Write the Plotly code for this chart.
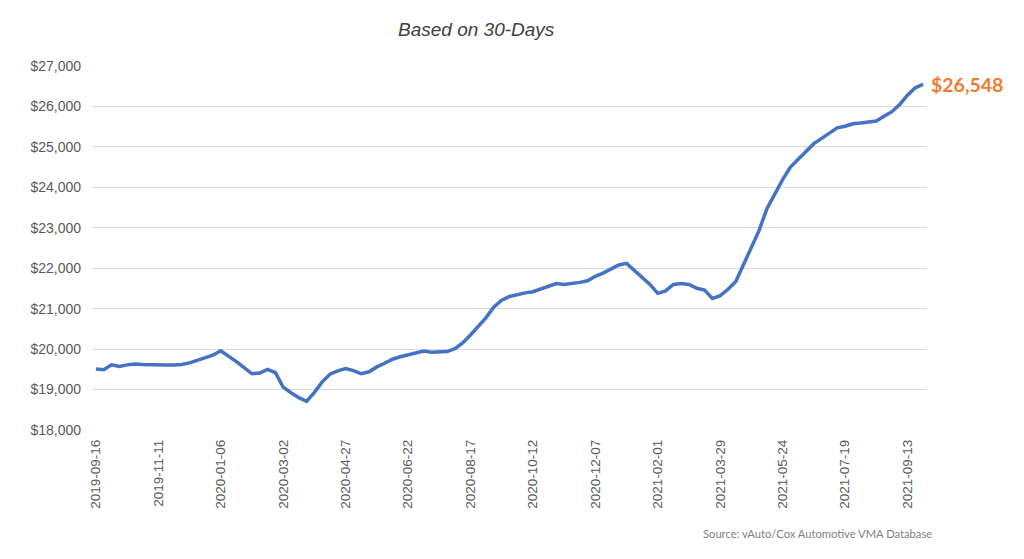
import plotly.graph_objects as go
import datetime as dt

start = dt.date(2019, 9, 16)
prices = [
    19510, 19490, 19610, 19570, 19610, 19630, 19620, 19610, 19610, 19610,
    19610, 19620, 19660, 19720, 19790, 19850, 19960, 19830, 19690, 19540,
    19390, 19410, 19500, 19420, 19060, 18920, 18800, 18710, 18930, 19190,
    19380, 19460, 19520, 19470, 19390, 19440, 19560, 19650, 19750, 19810,
    19860, 19910, 19950, 19920, 19930, 19940, 20010, 20150, 20350, 20560,
    20780, 21040, 21210, 21300, 21350, 21390, 21420, 21480, 21550, 21620,
    21600, 21620, 21650, 21690, 21800, 21880, 21970, 22080, 22120, 21950,
    21775, 21600, 21380, 21440, 21600, 21625, 21600, 21505, 21460, 21250,
    21320, 21480, 21670, 22080, 22540, 22940, 23480, 23850, 24190, 24500,
    24700, 24890, 25080, 25210, 25350, 25470, 25510, 25570, 25590, 25610,
    25640, 25760, 25870, 26050, 26280, 26460, 26548,
]
dates = [(start + dt.timedelta(weeks=i)).isoformat() for i in range(len(prices))]
tick_labels = dates[::8]
title_text = "Based on 30-Days"
source_text = "Source: vAuto/Cox Automotive VMA Database"
last_label = "${:,}".format(prices[-1])

fig = go.Figure()
fig.add_trace(go.Scatter(
    x=dates, y=prices, mode="lines",
    line=dict(color="#4472C4", width=3.5),
    hoverinfo="x+y", showlegend=False,
))

fig.add_annotation(
    x=dates[-1], y=prices[-1], xref="x", yref="y",
    text="<b>" + last_label + "</b>", showarrow=False,
    xanchor="left", yanchor="middle", xshift=6,
    font=dict(family="Lato", size=19.5, color="#ED7D31"),
)
fig.add_annotation(
    x=0.461, y=1.099, xref="paper", yref="paper",
    text="<i>" + title_text + "</i>", showarrow=False,
    xanchor="center", yanchor="middle",
    font=dict(family="Liberation Sans", size=19, color="#404040"),
)
fig.add_annotation(
    x=1.0085, y=-0.285, xref="paper", yref="paper",
    text=source_text, showarrow=False,
    xanchor="right", yanchor="middle",
    font=dict(family="Lato", size=11.2, color="#7F7F7F"),
)

fig.update_layout(
    width=1016, height=551,
    margin=dict(l=84, r=97, t=58, b=129),
    paper_bgcolor="white", plot_bgcolor="white",
    xaxis=dict(
        type="category", range=[-0.5, len(prices) - 0.5],
        tickmode="array", tickvals=tick_labels, ticktext=tick_labels,
        tickangle=-90, showgrid=False, showline=False, zeroline=False,
        ticks="", ticklabelstandoff=6,
        tickfont=dict(family="Liberation Sans", size=13.5, color="#595959"),
    ),
    yaxis=dict(
        range=[18000, 27000], dtick=1000, tickprefix="$", tickformat=",d",
        showgrid=True, gridcolor="#D9D9D9", gridwidth=1,
        zeroline=False, showline=False, ticks="", ticklabelstandoff=10,
        tickfont=dict(family="Liberation Sans", size=14, color="#595959"),
    ),
)

fig.write_html("out.html")
